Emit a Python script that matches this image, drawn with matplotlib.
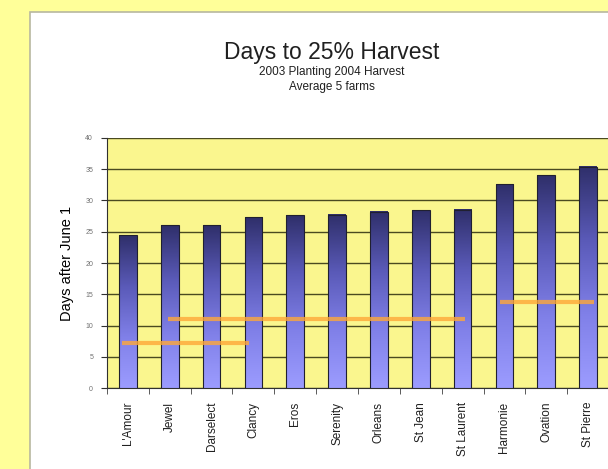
"""Days to 25% harvest by strawberry variety (2003 planting, 2004 harvest)."""

import numpy as np
import matplotlib.pyplot as plt
from matplotlib.patches import Rectangle
from matplotlib.colors import LinearSegmentedColormap

plt.rcParams["font.family"] = ["Liberation Sans", "DejaVu Sans"]

varieties = ["L'Amour", "Jewel", "Darselect", "Clancy", "Eros", "Serenity",
             "Orleans", "St Jean", "St Laurent", "Harmonie", "Ovation", "St Pierre"]
days = [24.4, 26.0, 26.0, 27.3, 27.6, 27.7, 28.2, 28.4, 28.5, 32.6, 34.0, 35.4]

# group averages drawn as orange bars (value, first/last position in category units)
group_avg = [7.2, 11.1, 13.8]
group_from = [-0.15, 0.95, 8.9]
group_to = [2.9, 8.05, 11.15]

yticks = [0, 5, 10, 15, 20, 25, 30, 35, 40]

fig = plt.figure(figsize=(6.08, 4.69), dpi=100)
fig.patch.set_facecolor("#FFFF99")

# white chart panel, cropped on the right and bottom like the screenshot
panel = Rectangle((30 / 608, -0.05), 1.0, (469 - 12) / 469 + 0.05,
                  transform=fig.transFigure, facecolor="white",
                  edgecolor="#b8b8a0", linewidth=1.2, zorder=-10)
fig.add_artist(panel)

ax = fig.add_axes([107 / 608, 81 / 469, 502 / 608, 250 / 469])
ax.set_facecolor("#FAF68E")

x = np.arange(len(varieties))
w = 0.42
cmap = LinearSegmentedColormap.from_list("bar", ["#9c9cff", "#8080e8", "#5a5ab8", "#2f2f6a"])
grad = np.linspace(0, 1, 256).reshape(-1, 1)

for xi, d in zip(x, days):
    ax.imshow(grad, cmap=cmap, origin="lower", aspect="auto",
              extent=[xi - w / 2, xi + w / 2, 0, d], zorder=3)
    ax.add_patch(Rectangle((xi - w / 2, 0), w, d, fill=False,
                           edgecolor="#202030", linewidth=0.8, zorder=4))

for v, a, b in zip(group_avg, group_from, group_to):
    ax.plot([a, b], [v, v], color="#FFA838", lw=3, alpha=0.8,
            solid_capstyle="butt", zorder=5)

ax.set_xlim(-0.5, len(varieties) - 0.5)
ax.set_ylim(0, 40)
ax.set_yticks(yticks)
ax.set_yticklabels([str(t) for t in yticks], fontsize=5, color="#707070")
ax.yaxis.grid(True, color="#4a4a20", linewidth=1.0)
ax.set_axisbelow(True)

ax.set_xticks(x)
ax.set_xticklabels(varieties, rotation=90, fontsize=8.5, color="#202020",
                   va="top")
ax.tick_params(axis="x", length=0, pad=10)
ax.set_xticks(np.arange(-0.5, len(varieties), 1), minor=True)
ax.tick_params(axis="x", which="minor", length=4, direction="out", color="#404040")
ax.tick_params(axis="y", length=4, direction="out", color="#303030", pad=6)

for s in ["top", "right"]:
    ax.spines[s].set_visible(False)
ax.spines["left"].set_color("#303030")
ax.spines["bottom"].set_color("#303030")

ax.set_ylabel("Days after June 1", fontsize=10.5, labelpad=8)

fig.text(332 / 608, 1 - 52 / 469, "Days to 25% Harvest", ha="center",
         va="center", fontsize=16.5, color="#202020")
fig.text(332 / 608, 1 - 72 / 469, "2003 Planting 2004 Harvest", ha="center",
         va="center", fontsize=8.5, color="#202020")
fig.text(332 / 608, 1 - 87 / 469, "Average 5 farms", ha="center",
         va="center", fontsize=8.5, color="#202020")

plt.savefig("out.png", dpi=100)
